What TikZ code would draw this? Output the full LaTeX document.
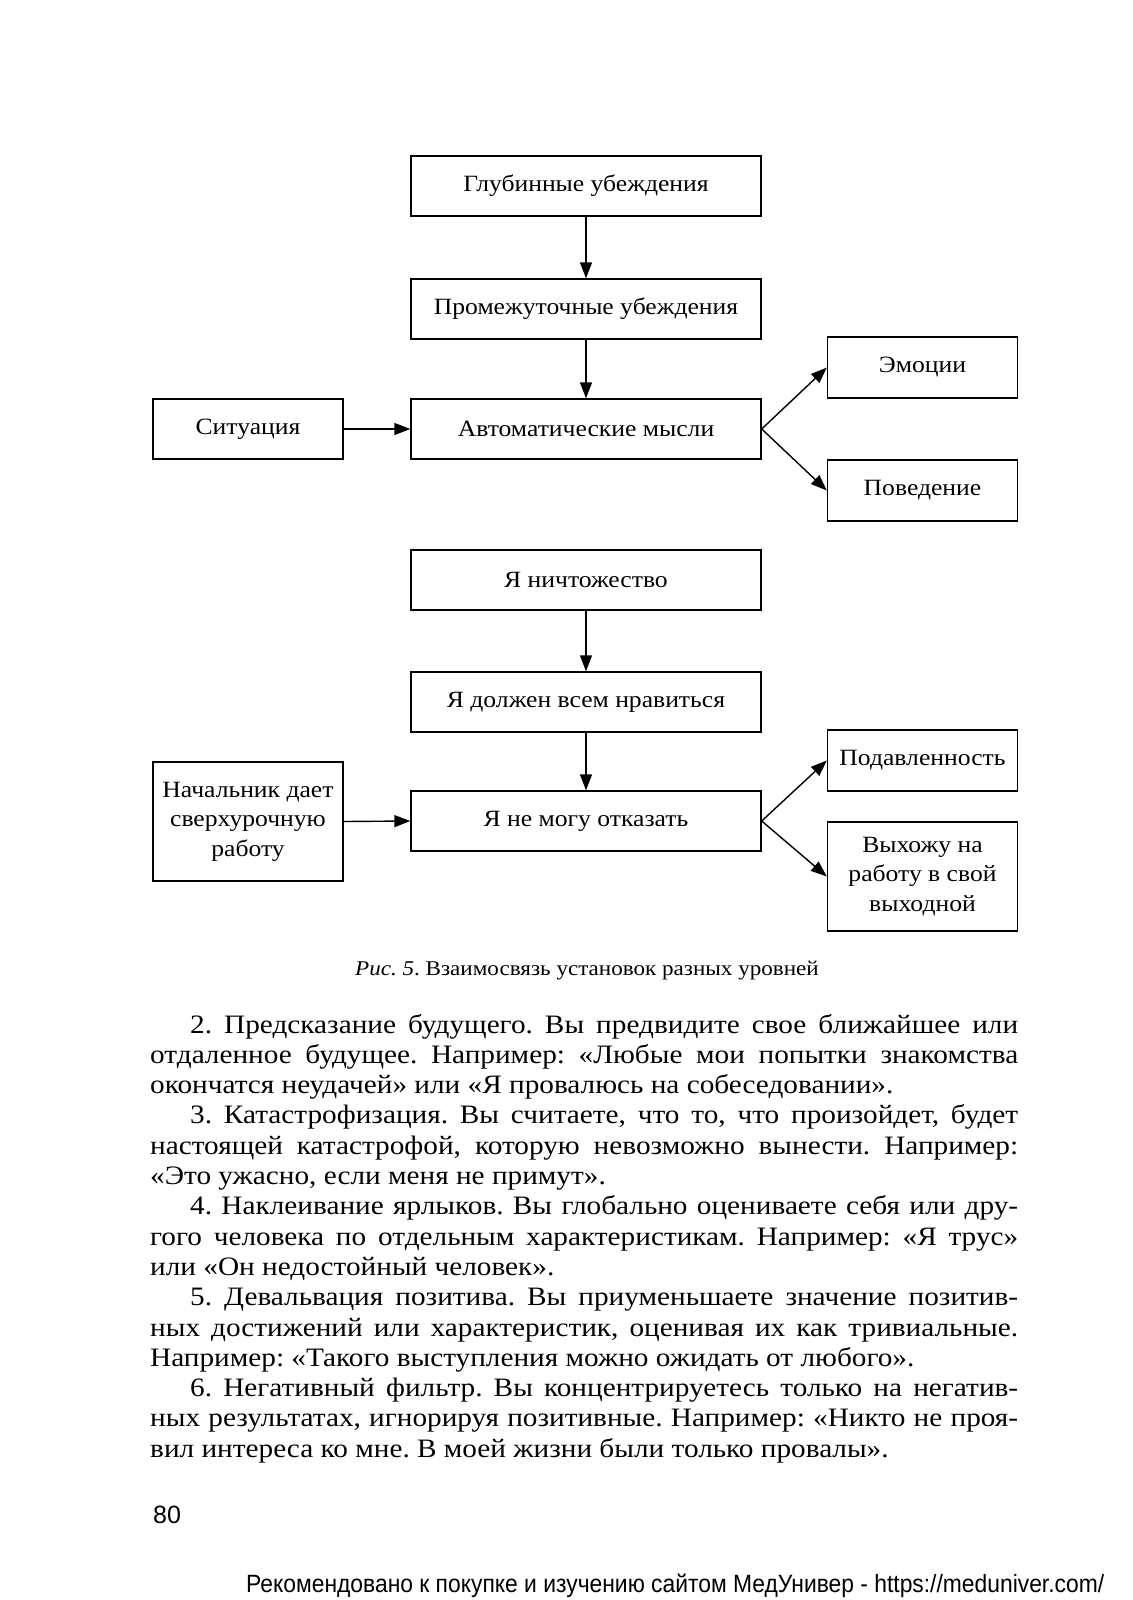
\documentclass[tikz,border=0pt]{standalone}
\usepackage{fontspec}
\setmainfont{Liberation Serif}[FakeStretch=1.1]
\newfontfamily\footsans{Liberation Sans}
\usetikzlibrary{arrows.meta}
\newcommand{\diagfont}{\fontsize{23.3}{29.5}\selectfont}
\newcommand{\bodyfont}{\fontsize{26.6}{30}\selectfont}
\newcommand{\jl}[2]{\makebox[#1pt][s]{#2}}
\newcommand{\foottext}{Рекомендовано к покупке и изучению сайтом МедУнивер - https://meduniver.com/}
\newlength\footw
\frenchspacing
\begin{document}
\settowidth\footw{\footsans\fontsize{25}{30}\selectfont\foottext}%
\pgfmathsetmacro\footscale{858/\footw}%
\begin{tikzpicture}[x=1pt,y=-1pt,
  box/.style={draw, line width=1.4pt, inner sep=0pt, align=center, font=\diagfont},
  midbox/.style={box, minimum width=350pt, minimum height=60pt},
  sidebox/.style={box, minimum width=190pt, minimum height=60pt},
  arr/.style={line width=1.4pt, -{Triangle[length=16pt,width=12pt]}},
  txt/.style={anchor=base west, inner sep=0pt, font=\bodyfont}]
\useasboundingbox (0,0) rectangle (1132,1600);
\fill[white] (0,0) rectangle (1132,1600);

% first diagram
\node[midbox] (glub) at (586,186) {Глубинные убеждения};
\node[midbox] (prom) at (586,309) {Промежуточные убеждения};
\node[midbox] (auto) at (586,429) {Автоматические мысли};
\node[sidebox] (sit) at (248,429) {Ситуация};
\node[sidebox, minimum height=61pt] (emo) at (922.5,367.5) {Эмоции};
\node[sidebox, minimum height=61pt] (pov) at (922.5,490.5) {Поведение};
\draw[arr] (glub.south) -- (prom.north);
\draw[arr] (prom.south) -- (auto.north);
\draw[arr] (sit.east) -- (auto.west);
\draw[arr] (auto.east) -- (emo.west);
\draw[arr] (auto.east) -- (pov.west);

% second diagram
\node[midbox] (nich) at (586,580) {Я ничтожество};
\node[midbox] (dolj) at (586,702) {Я должен всем нравиться};
\node[midbox] (nemog) at (586,821) {Я не могу отказать};
\node[sidebox, minimum height=119pt] (nach) at (248,821.5) {Начальник дает\\сверхурочную\\работу};
\node[sidebox, minimum height=61pt] (podav) at (922.5,760.5) {Подавленность};
\node[sidebox, minimum height=109pt] (vyh) at (922.5,876.5) {Выхожу на\\работу в свой\\выходной};
\draw[arr] (nich.south) -- (dolj.north);
\draw[arr] (dolj.south) -- (nemog.north);
\draw[arr] (nach.east) -- (nemog.west);
\draw[arr] (nemog.east) -- (podav.west);
\draw[arr] (nemog.east) -- (vyh.west);

% caption
\node[anchor=base, inner sep=0pt, font=\fontsize{21}{25}\selectfont] (cap) at (587,975) {\textit{Рис. 5}. Взаимосвязь установок разных уровней};

% body text
\node[txt] (l1) at (190,1033) {\jl{828}{2. Предсказание будущего. Вы предвидите свое ближайшее или}};
\node[txt] (l2) at (150,1063.3) {\jl{868}{отдаленное будущее. Например: «Любые мои попытки знакомства}};
\node[txt] (l3) at (150,1093.6) {окончатся неудачей» или «Я провалюсь на собеседовании».};
\node[txt] (l4) at (190,1123.9) {\jl{828}{3. Катастрофизация. Вы считаете, что то, что произойдет, будет}};
\node[txt] (l5) at (150,1154.2) {\jl{868}{настоящей катастрофой, которую невозможно вынести. Например:}};
\node[txt] (l6) at (150,1184.5) {«Это ужасно, если меня не примут».};
\node[txt] (l7) at (190,1214.8) {\jl{828}{4. Наклеивание ярлыков. Вы глобально оцениваете себя или дру-}};
\node[txt] (l8) at (150,1245.1) {\jl{868}{гого человека по отдельным характеристикам. Например: «Я трус»}};
\node[txt] (l9) at (150,1275.4) {или «Он недостойный человек».};
\node[txt] (l10) at (190,1305.7) {\jl{828}{5. Девальвация позитива. Вы приуменьшаете значение позитив-}};
\node[txt] (l11) at (150,1336) {\jl{868}{ных достижений или характеристик, оценивая их как тривиальные.}};
\node[txt] (l12) at (150,1366.3) {Например: «Такого выступления можно ожидать от любого».};
\node[txt] (l13) at (190,1396.6) {\jl{828}{6. Негативный фильтр. Вы концентрируетесь только на негатив-}};
\node[txt] (l14) at (150,1426.9) {\jl{868}{ных результатах, игнорируя позитивные. Например: «Никто не проя-}};
\node[txt] (l15) at (150,1457.2) {вил интереса ко мне. В моей жизни были только провалы».};

% page number and footer
\node[anchor=base west, inner sep=0pt, font=\footsans\fontsize{25}{30}\selectfont] (pnum) at (153,1523) {80};
\node[anchor=base west, inner sep=0pt, font=\footsans\fontsize{25}{30}\selectfont] (foot) at (246,1592) {\scalebox{\footscale}[1]{\foottext}};
\end{tikzpicture}
\end{document}
